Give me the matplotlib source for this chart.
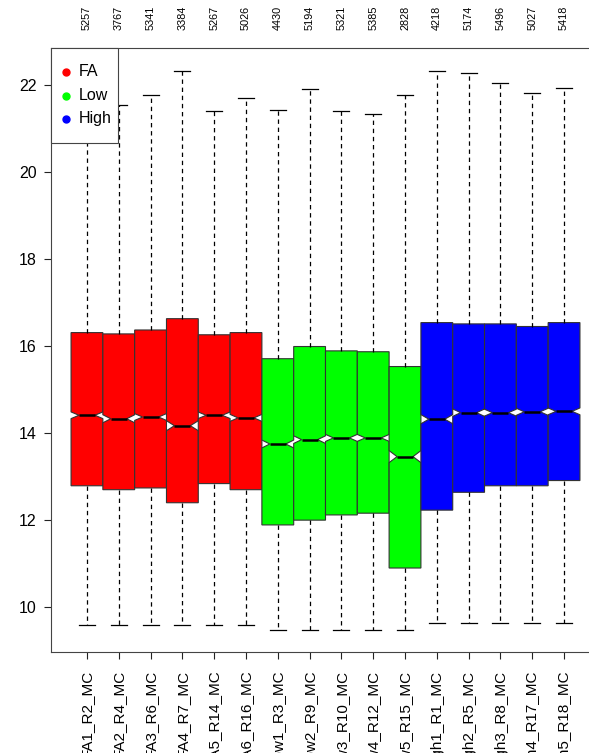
import numpy as np
import matplotlib
matplotlib.use('Agg')
import matplotlib.pyplot as plt
from matplotlib.patches import Rectangle
from matplotlib.transforms import blended_transform_factory

plt.rcParams['font.family'] = ['Liberation Sans', 'DejaVu Sans']

# ---------------------------------------------------------------------------
# Data
# ---------------------------------------------------------------------------
samples = ['FA1_R2_MC', 'FA2_R4_MC', 'FA3_R6_MC', 'FA4_R7_MC', 'FA5_R14_MC', 'FA6_R16_MC',
           'Low1_R3_MC', 'Low2_R9_MC', 'Low3_R10_MC', 'Low4_R12_MC', 'Low5_R15_MC',
           'High1_R1_MC', 'High2_R5_MC', 'High3_R8_MC', 'High4_R17_MC', 'High5_R18_MC']
groups = ['FA'] * 6 + ['Low'] * 5 + ['High'] * 5
counts = [5257, 3767, 5341, 3384, 5267, 5026, 4430, 5194, 5321, 5385, 2828,
          4218, 5174, 5496, 5027, 5418]

whis_hi = [21.70, 21.54, 21.78, 22.33, 21.40, 21.71, 21.43, 21.91, 21.40, 21.33, 21.77,
           22.33, 22.28, 22.05, 21.82, 21.94]
q3 = [16.31, 16.28, 16.37, 16.63, 16.26, 16.31, 15.71, 15.99, 15.89, 15.87, 15.53,
      16.54, 16.51, 16.51, 16.45, 16.54]
med = [14.41, 14.33, 14.37, 14.17, 14.41, 14.35, 13.75, 13.85, 13.89, 13.89, 13.46,
       14.32, 14.47, 14.47, 14.49, 14.50]
q1 = [12.79, 12.70, 12.74, 12.40, 12.84, 12.70, 11.89, 12.00, 12.12, 12.16, 10.90,
      12.23, 12.64, 12.79, 12.79, 12.91]
whis_lo = [9.60, 9.60, 9.60, 9.60, 9.60, 9.60, 9.47, 9.47, 9.47, 9.47, 9.47,
           9.64, 9.64, 9.64, 9.64, 9.64]

legend_labels = ['FA', 'Low', 'High']
group_colors = {'FA': '#FF0000', 'Low': '#00FF00', 'High': '#0000FF'}

# ---------------------------------------------------------------------------
# Build bxp stats (R-style notches: med +/- 1.58*IQR/sqrt(n))
# ---------------------------------------------------------------------------
stats = []
for i in range(len(samples)):
    half = 1.58 * (q3[i] - q1[i]) / np.sqrt(counts[i])
    stats.append(dict(med=med[i], q1=q1[i], q3=q3[i], whislo=whis_lo[i], whishi=whis_hi[i],
                      cilo=med[i] - half, cihi=med[i] + half, fliers=[]))

pos = np.arange(1, len(samples) + 1)

W, H = 589, 753
AX_L, AX_T, AX_W, AX_H = 50.7, 48, 549.6, 604   # axes box in pixels (right side runs off the image)

fig = plt.figure(figsize=(W / 100, H / 100), dpi=100, facecolor='white')
ax = fig.add_axes([AX_L / W, (H - AX_T - AX_H) / H, AX_W / W, AX_H / H])

bp = ax.bxp(stats, positions=pos, widths=1.0, shownotches=True, patch_artist=True,
            showfliers=False, capwidths=0.5,
            boxprops=dict(edgecolor='#333333', linewidth=0.8),
            whiskerprops=dict(color='black', linewidth=0.9, linestyle=(0, (3.5, 3))),
            capprops=dict(color='black', linewidth=0.9),
            medianprops=dict(color='black', linewidth=1.8, solid_capstyle='butt'))
for patch, g in zip(bp['boxes'], groups):
    patch.set_facecolor(group_colors[g])

ax.set_xlim(-0.14, 17.14)
ax.set_ylim(8.97, 22.85)

for s in ax.spines.values():
    s.set_color('#444444')
    s.set_linewidth(0.8)

ax.set_yticks(range(10, 23, 2))
ax.tick_params(axis='y', length=5, width=0.8, color='#222222', labelsize=11.5, pad=5)
ax.set_xticks(pos)
ax.set_xticklabels(samples, rotation=90, fontsize=11.0)
ax.tick_params(axis='x', length=5, width=0.8, color='#222222', pad=7.6)

# counts above each box
trans = blended_transform_factory(ax.transData, ax.transAxes)
for p, c in zip(pos, counts):
    ax.text(p, 1 + 18 / AX_H, str(c), rotation=90, ha='center', va='bottom',
            fontsize=7.8, transform=trans)

# R-style legend box in the top-left corner
def px(x, y):
    return (x - AX_L) / AX_W, 1 - (y - AX_T) / AX_H

x0, y0 = px(AX_L, 143)
x1, y1 = px(118, AX_T)
ax.add_patch(Rectangle((x0, y0), x1 - x0, y1 - y0, transform=ax.transAxes,
                       facecolor='white', edgecolor='#444444', linewidth=0.8,
                       zorder=10, clip_on=False))
for row, lab in enumerate(legend_labels):
    yy = 72 + row * 23.5
    mx, my = px(66, yy)
    ax.plot(mx, my, 'o', color=group_colors[lab], markersize=5, transform=ax.transAxes,
            zorder=11, clip_on=False)
    tx, ty = px(79, yy)
    ax.text(tx, ty, lab, fontsize=11.5, ha='left', va='center', transform=ax.transAxes,
            zorder=11)

fig.savefig('out.png', dpi=100, facecolor='white')
